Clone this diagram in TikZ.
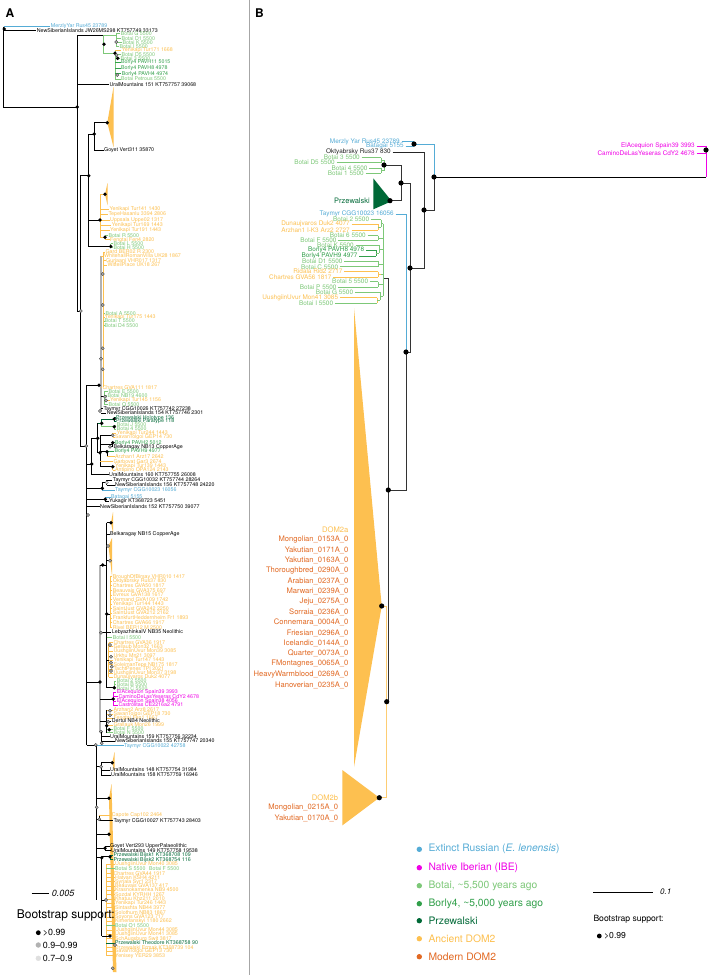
\documentclass[tikz,border=0pt]{standalone}
\usepackage{fontspec}
\setmainfont{TeX Gyre Heros}
\definecolor{cbl}{RGB}{85,172,214}
\definecolor{cmag}{RGB}{240,0,230}
\definecolor{cbot}{RGB}{125,200,120}
\definecolor{cbor}{RGB}{50,160,75}
\definecolor{cprz}{RGB}{0,105,55}
\definecolor{cdom}{RGB}{253,192,80}
\definecolor{cmod}{RGB}{226,105,35}
\newcounter{nlab}
\newcommand\Lab[5]{\draw[lA,#4] (#1,#3) -- (#2-0.4,#3);\stepcounter{nlab}\node[la,text=#4] (a\arabic{nlab}) at (#2,#3) {#5};}
\newcommand\RLab[5]{\draw[lB,#4] (#1+1.5,#3) -- (#2,#3);\stepcounter{nlab}\node[lb,text=#4] (b\arabic{nlab}) at (#1,#3) {#5};}
\newcommand\DotB[2]{\fill (#1,#2) circle (1.9pt);}
\newcommand\DotG[2]{\filldraw[fill=gray!60,draw=black!75,line width=0.35pt] (#1,#2) circle (1.6pt);}
\newcommand\DotL[2]{\filldraw[fill=gray!20,draw=black!60,line width=0.35pt] (#1,#2) circle (1.6pt);}
\newcommand\BDot[2]{\fill (#1,#2) circle (2.6pt);}
\begin{document}
\begin{tikzpicture}[x=1pt,y=-1pt,
  la/.style={anchor=west,inner sep=0pt,font=\fontsize{5.3}{6}\selectfont},
  lb/.style={anchor=east,inner sep=0pt,font=\fontsize{6.4}{7}\selectfont},
  lm/.style={anchor=east,inner sep=0pt,font=\fontsize{7.6}{8}\selectfont,text=cmod},
  lg/.style={anchor=west,inner sep=0pt,font=\fontsize{10.3}{11}\selectfont},
  lA/.style={line width=0.5pt},
  lAt/.style={line width=1.1pt},
  lB/.style={line width=0.9pt},
  lBk/.style={line width=1pt,black!80}]
\useasboundingbox (0,0) rectangle (712,975);
\fill[white] (0,0) rectangle (712,975);
\draw[gray!70,line width=0.8pt] (249,0) -- (249,975);
\node[anchor=west,inner sep=0pt,font=\bfseries\fontsize{12}{12}\selectfont] (pA) at (5.5,12.7) {A};
\node[anchor=west,inner sep=0pt,font=\bfseries\fontsize{12}{12}\selectfont] (pB) at (255,12.7) {B};

%%%%%%%%%%%%%%%% PANEL A
\draw[lA] (3.5,26.5) -- (3.5,107) -- (77.3,107);
\Lab{3.5}{50.7}{26.5}{cbl}{MerzlyYar Rus45 23789}
\Lab{3.5}{36.7}{30.3}{black}{NewSiberianIslands JW26MS298 KT757749 33173}
\DotB{4.3}{29}
\DotB{77.3}{107}
\draw[lAt] (77.3,35) -- (77.3,311);
\draw[lA] (77.3,35) -- (103.3,35);
\draw[lA,cbot] (103.3,35) -- (103.3,53.3) -- (115,53.3);
\draw[lA,cbot] (103.3,35) -- (116.3,35);
\draw[lA,cbot] (116.3,33.7) -- (116.3,46.3);
\Lab{116.3}{120.7}{33.7}{cbot}{Botai G 5500}
\Lab{116.3}{121.3}{38.3}{cbot}{Botai D1 5500}
\Lab{116.3}{122.3}{42.3}{cbot}{Botai K 5500}
\Lab{116.3}{119.3}{46.3}{cbot}{Botai I 5500}
\draw[lA,cbot] (115,50.3) -- (115,79);
\Lab{115}{121.7}{50.3}{cdom}{Yenikapi Tur171 1668}
\Lab{115}{121.3}{54.3}{cbot}{Botai D5 5500}
\Lab{115}{120.3}{58.3}{cbot}{Botai 3 5500}
\Lab{115}{121}{62.3}{cbor}{Borly4 PAVH11 5015}
\Lab{115}{121}{68.3}{cbor}{Borly4 PAVH8 4978}
\Lab{115}{121.7}{73.7}{cbor}{Borly4 PAVH4 4974}
\Lab{115}{121}{79}{cbot}{Botai Petrous 5500}
\DotB{104}{44.3}\DotG{116.3}{42}\DotB{115}{53.3}\DotG{116.5}{55}\DotB{117.7}{58.3}\DotG{117.3}{75}
\Lab{77.3}{109.3}{84.3}{black}{UralMountains 151 KT757757 39068}
% Goyet clade
\draw[lA] (88.3,134) -- (94.3,134);
\draw[lA] (94.3,122.7) -- (94.3,150);
\fill[cdom] (107.3,122.7) -- (113.5,87) -- (113.5,147) -- cycle;
\draw[lA] (94.3,122.7) -- (107.3,122.7);
\DotB{107.3}{122.7}\DotB{94.3}{134}
\Lab{94.3}{104}{150}{black}{Goyet Vert311 35870}
\draw[lA] (77.3,311) -- (80,311);
\draw[lA] (80,175.7) -- (80,446);
\draw[lA] (80,175.7) -- (88.3,175.7);
\draw[lA] (88.3,134) -- (88.3,246.7);
\DotB{88.7}{175.7}
\DotG{80.7}{311}
% orange clade
\draw[lA] (88.3,220) -- (100,220);
\draw[lA,cdom] (100,194.3) -- (100,237.3);
\draw[lA,cdom] (100,194.3) -- (105,194.3);
\fill[cdom] (105,194.3) -- (107.5,183) -- (107.5,205) -- cycle;
\DotB{105}{194.3}
\Lab{100}{109.3}{209.3}{cdom}{Yenikapi Tur141 1430}
\Lab{100}{108.3}{214.3}{cdom}{TepeHasanlu 3394 2806}
\Lab{100}{110}{220}{cdom}{Uppsala Uppe02 1317}
\Lab{100}{111.7}{225}{cdom}{Yenikapi Tur169 1443}
\Lab{100}{110}{230.3}{cdom}{Yenikapi Tur191 1443}
\draw[lA,cdom] (100,237.3) -- (105,237.3);
\draw[lA,cbot] (105,235.3) -- (105,239.7);
\Lab{105}{108.3}{235.3}{cbot}{Botai R 5500}
\Lab{105}{110}{239.7}{cdom}{Fengtai Fen4 2820}
\DotB{100}{220}\DotB{105}{237.3}
\draw[lA] (88.3,246.7) -- (110.7,246.7);
\draw[lA,cbot] (110.7,243.7) -- (110.7,247.7);
\Lab{110.7}{113.3}{243.7}{cbot}{Botai L 5500}
\Lab{110.7}{113.3}{247.7}{cbot}{Botai H 5500}
\DotB{110.7}{246.5}
% ladder
\draw[gray!60,line width=1.3pt] (101,256) -- (101,411);
\draw[cdom,line width=0.9pt] (103.5,252) -- (103.5,387);
\Lab{103.5}{105.3}{252}{cdom}{Gard BER02 R 2300}
\Lab{101}{104}{256}{cdom}{WhitehallRomanVilla UK28 1867}
\Lab{103.5}{106}{260.7}{cdom}{Gurjaani VHR017 1317}
\Lab{103.5}{107.3}{265}{cdom}{WitteilPlace UK18 267}
\DotG{102.7}{274}\DotG{102.7}{305}
\Lab{103.5}{105.3}{313.3}{cbot}{Botai A 5500}
\Lab{103.5}{104.5}{317}{cdom}{Yenikapi Tur175 1443}
\Lab{103.5}{104.5}{321}{cbot}{Botai T 5500}
\Lab{103.5}{104.5}{325.3}{cbot}{Botai D4 5500}
\DotG{102.7}{348.3}\DotG{101}{358.7}\DotG{102.7}{369.3}
\draw[lAt] (86.7,385.3) -- (86.7,745);
\draw[lA] (86.7,385.3) -- (99,385.3);
\DotB{99}{385.3}
\draw[lA] (80,446) -- (86.7,446);
\DotG{86.3}{446}
\Lab{101}{102.3}{387.7}{cdom}{Chartres GVA111 1817}
\draw[lA] (101,396) -- (104,396);
\draw[lA,cbot] (104,391.7) -- (104,404.3);
\Lab{104}{108.3}{391.7}{cbot}{Botai E 5500}
\Lab{104}{107.3}{395.7}{cbot}{Botai NB19 4600}
\Lab{104}{110}{400}{cdom}{Yenikapi Tur145 1156}
\Lab{104}{108.3}{404.3}{cbot}{Botai Q 5500}
\DotG{105}{396.7}\DotG{106}{400.5}
\Lab{101}{103.3}{408.7}{black}{Taymyr CGG10026 KT757742 27238}
\Lab{101}{106.7}{413}{black}{NewSiberianIslands 154 KT757746 2301}
\DotG{100}{411}
% Przewalski group
\draw[lA] (91.7,438.3) -- (97.7,438.3);
\draw[lA] (97.7,423.3) -- (97.7,452.7);
\draw[lA,cprz] (97.7,423.3) -- (101.7,423.3) -- (101.7,419) -- (114.3,419);
\draw[lA,cbot] (101.7,423.3) -- (101.7,426.7) -- (114.3,426.7);
\draw[lA,cprz] (114.3,417.7) -- (114.3,421.3);
\draw[lA,cbot] (114.3,425) -- (114.3,429);
\Lab{114.3}{116}{417.7}{cprz}{Przewalski Holotype 136}
\Lab{114.3}{116}{421.3}{cprz}{Przewalski Paratype 118}
\Lab{114.3}{116.7}{425}{cbot}{Botai J 5500}
\Lab{114.3}{116.7}{429}{cbot}{Botai 4 5500}
\DotB{101.7}{423.3}\DotB{114.3}{419}\DotB{114.3}{426.7}\DotB{97.7}{438.3}
\draw[lA] (97.7,452.7) -- (100,452.7);
\draw[lA] (100,435.5) -- (100,466.7);
\draw[lA] (100,435.5) -- (112.7,435.5);
\draw[lA,cdom] (112.7,433.3) -- (112.7,437.3);
\Lab{112.7}{116.7}{433.3}{cdom}{Yenikapi Tur244 1443}
\Lab{112.7}{115}{437.3}{cdom}{SavanTolgoi GEP14 730}
\DotG{112.7}{435.3}
\draw[lA] (100,444.7) -- (112.7,444.7);
\draw[lA] (112.7,442.7) -- (112.7,446.7);
\Lab{112.7}{115}{442.7}{cbor}{Borly4 PAVH2 5012}
\Lab{110}{113.3}{446.7}{black}{Belkaragay NB13 CopperAge}
\draw[lA] (100,451.7) -- (107,451.7);
\draw[lA] (107,451.3) -- (107,456.7);
\Lab{107}{114.3}{451.3}{cbor}{Borly4 PAVH9 4977}
\Lab{107}{115}{456.7}{cdom}{Arzhan1 Arz17 2642}
\DotB{112.7}{442.7}\DotG{110}{446.7}\DotB{107}{451.7}\DotB{100}{452.7}
\draw[lA] (86.7,464) -- (91.7,464);
\draw[lA] (91.7,438.3) -- (91.7,474.7);
\DotB{91.7}{464}
\Lab{100}{113.3}{461.7}{cdom}{Garbovat Gar3 2674}
\draw[lA] (100,466.7) -- (112.7,466.7);
\draw[lA,cdom] (112.7,466) -- (112.7,470.3);
\Lab{112.7}{115}{466}{cdom}{Yenikapi Tur139 1443}
\Lab{112.7}{115}{470.3}{cdom}{Antipino OPA124 2143}
\DotB{112.7}{466.7}
\Lab{91.7}{109}{474.7}{black}{UralMountains 160 KT757755 26008}
% 480-507
\draw[lA] (86.7,488.3) -- (102.3,488.3);
\draw[lA] (102.3,482.5) -- (102.3,490);
\draw[lA] (102.3,482.5) -- (106.7,482.5);
\draw[lA] (106.7,480) -- (106.7,485);
\Lab{106.7}{112.7}{480}{black}{Taymyr CGG10032 KT757744 28264}
\Lab{106.7}{115}{485}{black}{NewSiberianIslands 156 KT757748 24220}
\Lab{102.3}{115}{490}{cbl}{Taymyr CGG10023 16056}
\DotB{102.3}{488.3}\DotL{106.7}{482.5}
\draw[lA] (86.7,499.3) -- (105.3,499.3);
\draw[lA] (105.3,497) -- (105.3,501.3);
\Lab{105.3}{111}{497}{cbl}{Batagai 5155}
\Lab{105.3}{109}{501.3}{black}{Yukagir KT368723 5451}
\DotB{105.3}{499.3}
\Lab{86.7}{100}{506.7}{black}{NewSiberianIslands 152 KT757750 39077}
\DotG{88}{515}
% DOM2 subclade
\draw[gray!60,line width=1.3pt] (100,565) -- (100,732);
\draw[lA] (86.7,682) -- (100,682);
\DotB{100}{682}
\draw[lA] (100,565) -- (106.5,565);
\DotB{102.7}{565}
\draw[lA] (106.5,522.7) -- (106.5,687.7);
\draw[lA] (106.5,522.7) -- (111,522.7);
\fill[cdom] (111,522.7) -- (113,512) -- (113,533) -- cycle;
\DotB{111}{522.7}
\Lab{106.5}{110}{534}{black}{Belkaragay NB15 CopperAge}
\draw[lA] (106.5,546) -- (108,546);
\draw[lA] (106.5,560.7) -- (110,560.7);
\fill[cdom] (108.5,546) -- (112,538) -- (112,576) -- cycle;
\DotG{108}{546}\DotG{110}{560.7}
\draw[lA,cdom] (110,576.7) -- (110,627.3);
\Lab{110}{112.7}{576.7}{cdom}{BroughOfBirsay VHR010 1417}
\Lab{110}{112.7}{581}{cdom}{Oktyabrsky Rus37 830}
\Lab{110}{112.7}{585.7}{cdom}{Chartres GVA50 1817}
\Lab{110}{112.7}{590.3}{cdom}{Beauvais GVA375 697}
\Lab{110}{112.7}{595}{cdom}{Evreux GVA138 1617}
\Lab{110}{112.7}{599.3}{cdom}{Vermand GVA109 1742}
\Lab{110}{112.7}{604}{cdom}{Yenikapi Tur144 1443}
\Lab{110}{112.7}{608.3}{cdom}{SaintJust GVA242 2250}
\Lab{110}{112.7}{613}{cdom}{SaintJust GVA212 2162}
\Lab{110}{112.7}{618}{cdom}{FrankfurtHeddernheim Fr1 1893}
\Lab{110}{112.7}{622.7}{cdom}{Chartres GVA66 1917}
\Lab{110}{112.7}{627.3}{cdom}{Rivel BER12 M 2500}
\draw[lA] (106.5,614) -- (110,614);
\DotB{106.7}{614}
\Lab{100}{111.7}{632.5}{black}{LebyazhinkaIV NB35 Neolithic}
\DotG{101}{632.7}
\Lab{106.5}{112.7}{637.5}{cbot}{Botai I 5500}
\draw[lA,cdom] (108.5,642.7) -- (108.5,677);
\draw[lA] (106.5,660) -- (108.5,660);
\Lab{108.5}{113.3}{642.7}{cdom}{Chartres GVA36 1917}
\Lab{108.5}{113.3}{646.7}{cdom}{Gellaub Mon32 1663}
\Lab{108.5}{113.3}{651}{cdom}{UushgiinUvur Mon39 3085}
\Lab{108.5}{113.3}{656}{cdom}{Urkhu Mn21 3097}
\Lab{108.5}{113.3}{660.3}{cdom}{Yenikapi Tur147 1443}
\Lab{108.5}{113.3}{664.7}{cdom}{SoleimanTepe NB175 1817}
\Lab{108.5}{113.3}{669}{cdom}{TachtPenes TPI 2021}
\Lab{108.5}{113.3}{673.3}{cdom}{UushgiinUvur Mon37 3198}
\Lab{108.5}{113.3}{677}{cdom}{Dunaujvaros Duk2 4077}
\DotG{110}{645}\DotG{111}{656.7}\DotG{111}{662.7}\DotG{111.7}{666.7}\DotG{111}{671}
\draw[lA] (106.5,687.7) -- (114.3,687.7);
\draw[lA,cbot] (114.3,681) -- (114.3,688.7);
\Lab{114.3}{116.7}{681}{cbot}{Botai 2 5500}
\Lab{114.3}{116.7}{684.7}{cbot}{Botai B 5500}
\Lab{114.3}{116.7}{688.7}{cbot}{Botai C 5500}
\DotB{114.3}{687.7}
\draw[lA] (100,699) -- (113.3,699);
\draw[lA,cmag] (113.3,692.3) -- (113.3,705);
\Lab{113.3}{116.7}{692.3}{cmag}{ElAcequion Spain39 3993}
\Lab{113.3}{118.3}{696.7}{cmag}{CaminoDeLasYeseras CdY2 4678}
\Lab{113.3}{116.7}{701}{cmag}{ElAcequion Spain38 4056}
\Lab{113.3}{118.3}{705}{cmag}{Castrolitas CE2216a2 4791}
\DotB{113.3}{699}
\draw[lA] (100,721) -- (106.7,721);
\draw[lA] (106.7,710) -- (106.7,732.7);
\Lab{106.7}{113.3}{710}{cdom}{Arzhan2 Arz8 2617}
\Lab{106.7}{113.3}{714.3}{cdom}{SavanTolgoi GEP18 730}
\Lab{106.7}{113.3}{718}{cdom}{Fengtai Fen1 1667}
\Lab{106.7}{111.7}{721}{black}{Dertul NB4 Neolithic}
\Lab{106.7}{113.3}{725}{cdom}{Grallauk Mon26 1999}
\Lab{106.7}{113.3}{729}{cbot}{Botai F 5500}
\Lab{106.7}{113.3}{732.7}{cbot}{Botai N 5500}
\DotG{110}{710.7}\DotG{110}{715.3}\DotG{108.3}{721.7}\DotB{106.7}{725.7}\DotB{109.3}{729.7}\DotG{101}{731.7}
\draw[lA] (101.7,731.7) -- (101.7,743.3);
\Lab{101.7}{110}{736.7}{black}{UralMountains 159 KT757756 32234}
\Lab{101.7}{115}{741}{black}{NewSiberianIslands 155 KT757747 20340}
\DotG{101.7}{743.3}
\draw[lA] (86.7,745) -- (96.7,745);
\draw[lA] (96.7,745) -- (96.7,900);
\Lab{96.7}{124}{745.7}{cbl}{Taymyr CGG10022 42758}
\DotG{95.7}{745}
% lower
\draw[lA] (96.7,766.7) -- (101,766.7);
\draw[lA] (101,762.7) -- (101,775);
\fill[cdom] (112.3,762.7) -- (114.5,752) -- (114.5,772) -- cycle;
\draw[lA] (101,762.7) -- (112.3,762.7);
\DotB{112.3}{762.7}
\Lab{101}{110}{770}{black}{UralMountains 148 KT757754 31984}
\Lab{101}{111}{775}{black}{UralMountains 158 KT757759 16946}
\DotG{101}{766.7}
\fill[cdom] (109,798.3) -- (111.5,784) -- (116.5,972) -- (113,972) -- cycle;
\draw[lA] (96.7,798.3) -- (109,798.3);
\DotB{109}{798.3}
\DotG{96.7}{807.3}
\draw[lA] (96.7,819.3) -- (99.3,819.3);
\draw[lA] (99.3,815) -- (99.3,820.7);
\Lab{99.3}{111.7}{815}{cdom}{Capote Cap102 2464}
\Lab{99.3}{113.3}{820.7}{black}{Taymyr CGG10027 KT757743 28403}
\DotG{99.3}{819.3}
\draw[lA] (96.7,834.3) -- (109,834.3);
\fill[cdom] (109,834.3) -- (111,826) -- (111,842) -- cycle;
\DotB{109}{834.3}
\draw[lA] (96.7,848.3) -- (105,848.3);
\draw[lA] (105,846) -- (105,850.7);
\Lab{105}{110}{846}{black}{Goyet Vert293 UpperPalaeolithic}
\Lab{105}{111}{850.7}{black}{UralMountains 149 KT757758 19538}
\DotB{105}{848.3}
\draw[lA] (96.7,857.7) -- (101.7,857.7);
\draw[lA] (101.7,856.7) -- (101.7,936);
\draw[lA] (101.7,856.7) -- (110,856.7);
\draw[lA,cprz] (110,855.3) -- (110,859.7);
\Lab{110}{113.3}{855.3}{cprz}{Przewalski Bijsk1 KT368708 109}
\Lab{110}{113.3}{859.7}{cprz}{Przewalski Bijsk2 KT368754 116}
\DotB{110}{856.7}\DotB{101.7}{857.7}
\draw[lA,cdom] (106,864) -- (106,956);
\draw[lA] (101.7,900) -- (106,900);
\Lab{106}{115}{864}{cdom}{UushgiinUvur Mon40 3085}
\Lab{106}{115}{868.3}{cbot}{Botai S 5500}
\node[la,text=cbot] (a900) at (149,868.3) {Botai F 5500};
\Lab{106}{113.3}{873.3}{cdom}{Chartres GVA44 1917}
\Lab{106}{115}{877.7}{cdom}{Hatvan KSH4 4211}
\Lab{106}{115}{881.7}{cdom}{Syrjala Syr1 2317}
\Lab{106}{115}{886}{cdom}{Beauvais GVA137 417}
\Lab{106}{115}{890}{cdom}{Krasnokamenka NB9 4500}
\Lab{106}{115}{894.7}{cdom}{Sozdal KYRHH 1267}
\Lab{106}{115}{899}{cdom}{Khatuu Khz211 2010}
\Lab{106}{115}{903.3}{cdom}{Yenikapi Tur246 1443}
\Lab{106}{115}{907.7}{cdom}{Sintashta NB44 3977}
\Lab{106}{115}{912.3}{cdom}{Solothurn NB83 1867}
\Lab{106}{115}{917}{cdom}{Soyons GVA123 717}
\Lab{106}{115}{921}{cdom}{Kimerlanskyi 1180 2662}
\Lab{106}{115}{925.7}{cbot}{Botai O1 5500}
\Lab{106}{115}{930}{cdom}{UushgiinUvur Mon44 3085}
\Lab{106}{115}{934.3}{cdom}{UushgiinUvur Mon41 3085}
\Lab{106}{115}{938.7}{cdom}{SchAugsburg Swit 3817}
\Lab{106}{115}{943}{cprz}{Przewalski Theodore KT368758 90}
\Lab{106}{115}{947.3}{cdom}{Przewalski Ermak KT368739 104}
\Lab{106}{115}{951.3}{cdom}{SavanTolgoi GEP13 730}
\Lab{106}{115}{955.7}{cdom}{Yenisey YER29 3853}
\draw[lA] (101.7,936) -- (110,936);
\DotG{106}{900}\DotB{110}{936}\DotG{115}{945}\DotG{112.7}{968.3}
% legend A
\draw[line width=0.8pt] (31.7,893.3) coordinate (sa1) -- (49.3,893.3) coordinate (sa2);
\node[anchor=west,inner sep=0pt,font=\itshape\fontsize{9}{9}\selectfont] (sAl) at (51.7,893) {0.005};
\node[anchor=west,inner sep=0pt,font=\fontsize{12}{12}\selectfont] (bsA) at (16.7,915) {Bootstrap support:};
\fill (38.3,932.7) circle (2.4pt);
\filldraw[fill=gray!60,draw=gray!60] (38.3,945) circle (2.4pt);
\filldraw[fill=gray!25,draw=gray!25] (38.3,958.3) circle (2.4pt);
\node[anchor=west,inner sep=0pt,font=\fontsize{8.9}{9}\selectfont] (bsA1) at (42.7,932.7) {>0.99};
\node[anchor=west,inner sep=0pt,font=\fontsize{8.9}{9}\selectfont] (bsA2) at (42.7,945) {0.9--0.99};
\node[anchor=west,inner sep=0pt,font=\fontsize{8.9}{9}\selectfont] (bsA3) at (42.7,958.3) {0.7--0.9};

%%%%%%%%%%%%%%%% PANEL B
% triangles
\fill[cdom] (354,308) -- (381.7,606) -- (354,767) -- cycle;
\fill[cdom] (342.3,770) -- (379.3,797.7) -- (342.3,825.4) -- cycle;
\fill[cprz] (373.3,178.3) -- (391.7,201.2) -- (373.3,209.3) -- cycle;
% root and Iberian
\draw[lB,black] (434,177) -- (706,177);
\draw[lB,cmag] (706,146) -- (706,177);
\RLab{695}{706}{146}{cmag}{ElAcequion Spain39 3993}
\RLab{695}{706}{153}{cmag}{CaminoDeLasYeseras CdY2 4678}
\BDot{706}{150}
% extinct
\draw[lB,cbl] (414,141.7) -- (414,146.3);
\RLab{400}{414}{141.7}{cbl}{Merzly Yar Rus45 23789}
\RLab{404}{414}{146.3}{cbl}{Batagai 5155}
\draw[lB,cbl] (414,144) -- (434,144) -- (434,177);
\draw[lBk] (434,177) -- (434,210) -- (424,210);
\BDot{414}{144}\BDot{434}{177}
\RLab{391}{424}{152.3}{black!85}{Oktyabrsky Rus37 830}
\draw[lBk] (424,152.3) -- (424,268) -- (410,268);
\BDot{424}{210}
\draw[lBk] (410,183) -- (410,352) -- (406,352);
\BDot{410}{268}
\draw[lBk] (401,183) -- (410,183);
\draw[lBk] (401,165) -- (401,200.7);
\draw[lBk] (384,165) -- (401,165);
\draw[lBk] (390,200.7) -- (401,200.7);
\BDot{401}{183}\BDot{390}{200.7}
\node[anchor=east,inner sep=0pt,font=\fontsize{7.5}{8}\selectfont,text=cprz] (przB) at (370,201) {Przewalski};
% Botai clade 1
\RLab{360}{381}{157.7}{cbot}{Botai 3 5500}
\RLab{335}{381}{162.7}{cbot}{Botai D5 5500}
\RLab{367.7}{381}{168.3}{cbot}{Botai 4 5500}
\RLab{364}{381}{173.3}{cbot}{Botai 1 5500}
\draw[lB,cbot] (381,157.7) -- (381,162.7);
\draw[lB,cbot] (381,168.3) -- (381,173.3);
\draw[lB,cbot] (381,160.2) -- (384,160.2) -- (384,170.8) -- (381,170.8);
\BDot{384}{165}
% Taymyr
\RLab{394}{406}{214.3}{cbl}{Taymyr CGG10023 16056}
\draw[lB,cbl] (406,214.3) -- (406,352);
\draw[lBk] (406,352) -- (406,490) -- (388.3,490);
\BDot{406}{352}
\draw[lBk] (383,278.3) -- (388.3,278.3) -- (388.3,701.7) -- (386.7,701.7);
\BDot{388.3}{490}
% Botai clade 2
\RLab{369.3}{381}{219.7}{cbot}{Botai 2 5500}
\RLab{350}{378}{224.3}{cdom}{Dunaujvaros Duk2 4077}
\RLab{350}{378}{230}{cdom}{Arzhan1 I-K3 Arz2 2727}
\draw[lB,cdom] (378,224.3) -- (378,230);
\draw[lB,cbot] (378,227.2) -- (381,227.2);
\draw[lB,cbot] (381,219.7) -- (381,227.2);
\draw[lB,cbot] (381,223.5) -- (383,223.5);
\RLab{366}{378}{235.7}{cbot}{Botai 6 5500}
\RLab{336.7}{378}{240.3}{cbot}{Botai F 5500}
\draw[lB,cbot] (378,235.7) -- (378,240.3);
\draw[lB,cbot] (378,238) -- (383,238);
\RLab{354}{379}{245.3}{cbot}{Botai K 5500}
\RLab{364.3}{376}{250.3}{cbor}{Borly4 PAVH8 4978}
\RLab{357.7}{376}{256}{cbor}{Borly4 PAVH9 4977}
\draw[lB,cbor] (376,250.3) -- (376,256);
\draw[lB,cbot] (376,253.2) -- (379,253.2);
\draw[lB,cbot] (379,245.3) -- (379,253.2);
\draw[lB,cbot] (379,249) -- (383,249);
\RLab{342.7}{378}{261.3}{cbot}{Botai D1 5500}
\RLab{338.3}{378}{266.7}{cbot}{Botai C 5500}
\draw[lB,cbot] (378,261.3) -- (378,266.7);
\draw[lB,cbot] (378,264) -- (383,264);
\RLab{342.7}{378}{271.7}{cdom}{Ridala Rid2 2717}
\RLab{331.7}{378}{277}{cdom}{Chartres GVA56 1817}
\draw[lB,cdom] (378,271.7) -- (378,277);
\draw[lB,cdom] (378,274.3) -- (381,274.3);
\draw[lB,cbot] (381,274.3) -- (383,274.3);
\RLab{368.3}{378}{281.7}{cbot}{Botai 5 5500}
\RLab{336.7}{378}{287}{cbot}{Botai P 5500}
\draw[lB,cbot] (378,281.7) -- (378,287);
\draw[lB,cbot] (378,284.3) -- (383,284.3);
\RLab{353.3}{380}{292.3}{cbot}{Botai G 5500}
\RLab{338.3}{377}{297.7}{cdom}{UushgiinUvur Mon41 3085}
\RLab{333.3}{377}{303}{cbot}{Botai I 5500}
\draw[lB,cdom] (377,297.7) -- (377,303);
\draw[lB,cbot] (377,300.3) -- (380,300.3);
\draw[lB,cbot] (380,292.3) -- (380,300.3);
\draw[lB,cbot] (380,296.3) -- (383,296.3);
\draw[lB,cbot] (383,223.5) -- (383,296.3);
% DOM2 node
\draw[lB,cdom!80] (381.7,606) -- (386.7,606) -- (386.7,797.7) -- (379.3,797.7);
\BDot{386.7}{701.7}\BDot{381.7}{606}\BDot{379.3}{797.7}
\node[anchor=east,inner sep=0pt,font=\fontsize{7.6}{8}\selectfont,text=cdom] (d2a) at (348.5,529.7) {DOM2a};
\node[lm] (m1) at (348.5,539.7) {Mongolian\_0153A\_0};
\node[lm] (m2) at (348.5,550.3) {Yakutian\_0171A\_0};
\node[lm] (m3) at (348.5,560.7) {Yakutian\_0163A\_0};
\node[lm] (m4) at (348.5,570.7) {Thoroughbred\_0290A\_0};
\node[lm] (m5) at (348.5,581.3) {Arabian\_0237A\_0};
\node[lm] (m6) at (348.5,591.7) {Marwari\_0239A\_0};
\node[lm] (m7) at (348.5,602) {Jeju\_0275A\_0};
\node[lm] (m8) at (348.5,612.3) {Sorraia\_0236A\_0};
\node[lm] (m9) at (348.5,622.7) {Connemara\_0004A\_0};
\node[lm] (m10) at (348.5,633) {Friesian\_0296A\_0};
\node[lm] (m11) at (348.5,643.3) {Icelandic\_0144A\_0};
\node[lm] (m12) at (348.5,653.7) {Quarter\_0073A\_0};
\node[lm] (m13) at (348.5,664) {FMontagnes\_0065A\_0};
\node[lm] (m14) at (348.5,674.7) {HeavyWarmblood\_0269A\_0};
\node[lm] (m15) at (348.5,685) {Hanoverian\_0235A\_0};
\node[anchor=east,inner sep=0pt,font=\fontsize{7.6}{8}\selectfont,text=cdom] (d2b) at (338.3,797.7) {DOM2b};
\node[lm] (m16) at (338.3,808) {Mongolian\_0215A\_0};
\node[lm] (m17) at (338.3,818.3) {Yakutian\_0170A\_0};
% legend B
\fill[cbl] (419.3,849.3) circle (2.7pt);
\fill[cmag] (419.3,867.7) circle (2.7pt);
\fill[cbot] (419.3,885.7) circle (2.7pt);
\fill[cbor] (419.3,903.7) circle (2.7pt);
\fill[cprz] (419.3,920.7) circle (2.7pt);
\fill[cdom] (419.3,938.7) circle (2.7pt);
\fill[cmod] (419.3,956.7) circle (2.7pt);
\node[lg,text=cbl] (g1) at (428.3,849.3) {Extinct Russian (\textit{E. lenensis})};
\node[lg,text=cmag] (g2) at (428.3,867.7) {Native Iberian (IBE)};
\node[lg,text=cbot] (g3) at (428.3,885.7) {Botai, \textasciitilde5,500 years ago};
\node[lg,text=cbor] (g4) at (428.3,903.7) {Borly4, \textasciitilde5,000 years ago};
\node[lg,text=cprz] (g5) at (428.3,920.7) {Przewalski};
\node[lg,text=cdom] (g6) at (428.3,938.7) {Ancient DOM2};
\node[lg,text=cmod] (g7) at (428.3,956.7) {Modern DOM2};
\draw[line width=0.8pt] (593.3,892) coordinate (sb1) -- (652.7,892) coordinate (sb2);
\node[anchor=west,inner sep=0pt,font=\itshape\fontsize{8}{8}\selectfont] (sBl) at (660,892) {0.1};
\node[anchor=west,inner sep=0pt,font=\fontsize{8.6}{9}\selectfont] (bsB) at (593.3,919) {Bootstrap support:};
\fill (599.3,936) circle (2.4pt);
\node[anchor=west,inner sep=0pt,font=\fontsize{8.6}{9}\selectfont] (bsB1) at (604,936) {>0.99};
\end{tikzpicture}
\end{document}
